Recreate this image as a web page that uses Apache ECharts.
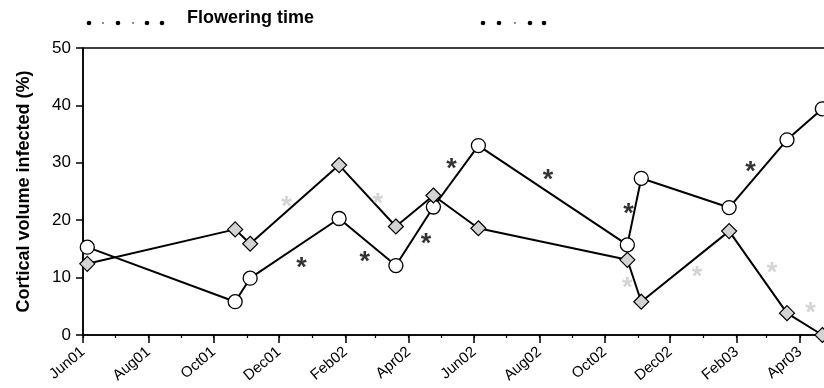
<!DOCTYPE html>
<html>
<head>
<meta charset="utf-8">
<script src="https://cdn.jsdelivr.net/npm/echarts@6/dist/echarts.min.js"></script>
<style>
  html, body { margin: 0; padding: 0; background: #fff; }
  #chart { width: 824px; height: 388px; }
</style>
</head>
<body>
<div id="chart"></div>
<script>
// Sampling dates shared by both series
const sampleDates = ['2001-06-05', '2001-10-21', '2001-11-04', '2002-01-26', '2002-03-20', '2002-04-24',
                     '2002-06-05', '2002-10-22', '2002-11-04', '2003-01-25', '2003-03-20', '2003-04-22'];
// Cortical volume infected (%)
const openCircleValues  = [15.3, 5.8, 9.9, 20.3, 12.1, 22.3, 33.0, 15.7, 27.3, 22.2, 34.0, 39.4];
const greyDiamondValues = [12.4, 18.4, 15.9, 29.6, 18.9, 24.3, 18.6, 13.1, 5.8, 18.1, 3.8, 0];

// Significance markers
const blackStarDates  = ['2001-12-22', '2002-02-19', '2002-04-17', '2002-05-11', '2002-08-09', '2002-10-23', '2003-02-14'];
const blackStarValues = [12.7, 13.6, 16.8, 29.9, 27.9, 22.1, 29.4];
const greyStarDates   = ['2001-12-08', '2002-03-03', '2002-10-22', '2002-12-26', '2003-03-06', '2003-04-11'];
const greyStarValues  = [23.2, 23.8, 9.2, 11.1, 11.7, 4.8];

// Labelled (two-monthly) ticks
const tickLabels = ['Jun01', 'Aug01', 'Oct01', 'Dec01', 'Feb02', 'Apr02',
                    'Jun02', 'Aug02', 'Oct02', 'Dec02', 'Feb03', 'Apr03'];
const yTicks = [0, 10, 20, 30, 40, 50];

const MONTHS = ['Jan', 'Feb', 'Mar', 'Apr', 'May', 'Jun', 'Jul', 'Aug', 'Sep', 'Oct', 'Nov', 'Dec'];

function toTime(iso) {
  const [y, m, d] = iso.split('-').map(Number);
  return new Date(y, m - 1, d).getTime();
}
function labelToTime(lbl) {
  return new Date(2000 + Number(lbl.slice(3)), MONTHS.indexOf(lbl.slice(0, 3)), 1).getTime();
}

const axisMin = toTime('2001-06-01');
const axisMax = toTime('2003-05-01');

const majorTicks = tickLabels.map(labelToTime);
const labelByTime = {};
majorTicks.forEach((t, i) => { labelByTime[t] = tickLabels[i]; });

// monthly minor ticks
const minorTicks = [];
for (let d = new Date(2001, 5, 1); d.getTime() <= axisMax; d = new Date(d.getFullYear(), d.getMonth() + 1, 1)) {
  minorTicks.push(d.getTime());
}

const pairs = (dates, vals) => dates.map((d, i) => [toTime(d), vals[i]]);

const FONT = '"Liberation Sans", Arial, Helvetica, sans-serif';

const chart = echarts.init(document.getElementById('chart'), null, { renderer: 'canvas' });

const starLabel = color => ({
  show: true,
  position: 'inside',
  formatter: '*',
  color: color,
  fontFamily: FONT,
  fontWeight: 'bold',
  fontSize: 27,
  offset: [0, 6]
});

chart.setOption({
  animation: false,
  backgroundColor: '#fff',
  textStyle: { fontFamily: FONT },
  // the plot runs slightly past the right edge of the canvas
  grid: {
    left: 83, width: 749, top: 48, bottom: 53,
    outerBoundsMode: 'none',
    containLabel: false,
    show: true, borderColor: '#000', borderWidth: 1.5, backgroundColor: 'transparent'
  },
  xAxis: [
    {
      type: 'value',
      min: axisMin, max: axisMax,
      axisLine: { show: true, lineStyle: { color: '#000', width: 1.5 } },
      axisTick: { show: true, customValues: majorTicks, length: 8, lineStyle: { color: '#000', width: 1.5 } },
      axisLabel: {
        customValues: majorTicks,
        formatter: v => labelByTime[v] || '',
        rotate: 40, margin: 15,
        color: '#000', fontSize: 15, fontFamily: FONT
      },
      splitLine: { show: false }
    },
    {
      type: 'value',
      min: axisMin, max: axisMax,
      position: 'bottom',
      axisLine: { show: false },
      axisTick: { show: true, customValues: minorTicks, length: 3, lineStyle: { color: '#000', width: 1.2 } },
      axisLabel: { show: false },
      splitLine: { show: false }
    }
  ],
  yAxis: {
    type: 'value',
    min: yTicks[0], max: yTicks[yTicks.length - 1], interval: 10,
    name: 'Cortical volume infected (%)',
    nameLocation: 'middle',
    nameGap: 50,
    nameTextStyle: { color: '#000', fontSize: 18, fontWeight: 'bold', fontFamily: FONT },
    axisLine: { show: true, lineStyle: { color: '#000', width: 1.5 } },
    axisTick: { show: true, length: 7, lineStyle: { color: '#000', width: 1.5 } },
    axisLabel: { color: '#000', fontSize: 17, margin: 12, fontFamily: FONT },
    splitLine: { show: false }
  },
  series: [
    {
      type: 'line',
      data: pairs(sampleDates, openCircleValues),
      symbol: 'circle', symbolSize: 14,
      itemStyle: { color: '#fff', borderColor: '#000', borderWidth: 1.3 },
      lineStyle: { color: '#000', width: 2 },
      z: 3
    },
    {
      type: 'line',
      data: pairs(sampleDates, greyDiamondValues),
      symbol: 'diamond', symbolSize: 15,
      itemStyle: { color: '#d3d3d3', borderColor: '#000', borderWidth: 1.2 },
      lineStyle: { color: '#000', width: 2 },
      z: 4
    },
    {
      type: 'scatter',
      data: pairs(blackStarDates, blackStarValues),
      symbol: 'circle', symbolSize: 1,
      itemStyle: { color: 'rgba(0,0,0,0)' },
      label: starLabel('#000'),
      z: 5
    },
    {
      type: 'scatter',
      data: pairs(greyStarDates, greyStarValues),
      symbol: 'circle', symbolSize: 1,
      itemStyle: { color: 'rgba(0,0,0,0)' },
      label: starLabel('#c9c9c9'),
      z: 5
    }
  ],
  graphic: [
    // flowering-time dot rows and caption
    ...[[89, 2.3], [103, 0.8], [118, 2.3], [133, 0.8], [147, 2.3], [162, 2.3],
        [483, 2.3], [499, 2.3], [515, 0.8], [530, 2.3], [544, 2.3]].map(([x, r]) => ({
      type: 'circle', shape: { cx: x, cy: 23, r: r }, style: { fill: '#000' }, silent: true
    })),
    {
      type: 'text', left: 187, top: 9,
      style: { text: 'Flowering time', fill: '#000', font: 'bold 18px ' + FONT }
    }
  ]
});
</script>
</body>
</html>
